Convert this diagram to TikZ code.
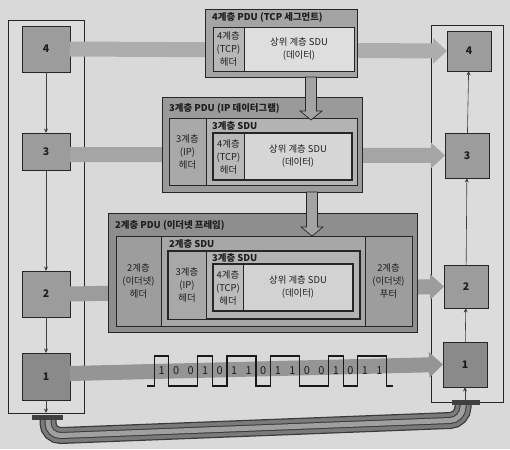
\documentclass[tikz,border=0pt]{standalone}
\usepackage{fontspec}
\setmainfont{Noto Sans CJK KR}
\usetikzlibrary{arrows.meta}
\definecolor{bg}{HTML}{D9D9D9}
\definecolor{panel}{HTML}{DCDCDC}
\definecolor{txt}{HTML}{1E1E1E}
\definecolor{lbox}{HTML}{9C9C9C}
\definecolor{lboxa}{HTML}{8A8A8A}
\definecolor{bandfour}{HTML}{ADADAD}
\definecolor{bandthree}{HTML}{A5A5A5}
\definecolor{bandtwo}{HTML}{9C9C9C}
\definecolor{bandone}{HTML}{959595}
\definecolor{pfourout}{HTML}{A4A4A4}
\definecolor{pfourhdr}{HTML}{B7B7B7}
\definecolor{pfourdat}{HTML}{DEDEDE}
\definecolor{pthreeout}{HTML}{9A9A9A}
\definecolor{pthreein}{HTML}{B3B3B3}
\definecolor{pthreehdr}{HTML}{A9A9A9}
\definecolor{pthreetcp}{HTML}{B9B9B9}
\definecolor{pthreedat}{HTML}{D6D6D6}
\definecolor{ptwoout}{HTML}{8E8E8E}
\definecolor{ptwoin}{HTML}{A7A7A7}
\definecolor{ptwohdr}{HTML}{9D9D9D}
\definecolor{ptwosdu}{HTML}{B3B3B3}
\definecolor{ptwoip}{HTML}{A8A8A8}
\definecolor{ptwotcp}{HTML}{BCBCBC}
\definecolor{ptwodat}{HTML}{D2D2D2}
\definecolor{cabledark}{HTML}{3A3A3A}
\definecolor{cablemid}{HTML}{7A7A7A}
\definecolor{cablelight}{HTML}{A0A0A0}
\tikzset{
 pbox/.style={draw=black!85, line width=0.7pt, inner sep=0pt, outer sep=0pt},
 lbl/.style={font=\fontsize{9.4}{13}\selectfont, text=txt, align=center},
 ttl/.style={font=\bfseries\fontsize{9.4}{10}\selectfont, text=txt, anchor=west, inner sep=0pt},
 num/.style={font=\bfseries\fontsize{10}{10}\selectfont},
 thinarrow/.style={draw=black!75, line width=0.6pt, -{Stealth[length=4.5pt,width=4pt]}},
 bandarrow/.style={line width=15pt, draw=#1, -{Triangle[length=14pt,width=25pt]}},
 blockarrow/.style={draw=black!85, line width=0.7pt, fill=pfourout},
 bitlbl/.style={font=\fontsize{11}{11}\selectfont, text=txt, inner sep=0pt},
}
\newcommand\mkbox[7]{\node[pbox, fill=#6, minimum width={(#4-#2)*1pt}, minimum height={(#5-#3)*1pt}, lbl] (#1) at ({(#2+#4)/2},{(#3+#5)/2}) {#7};}
\begin{document}
\begin{tikzpicture}[x=1pt,y=-1pt]
\useasboundingbox (0,0) rectangle (510,449);
\fill[bg] (0,0) rectangle (510,449);
% cable
\begin{scope}[rounded corners=13pt, line cap=butt]
\draw[line width=17pt, cabledark] (48,416) -- (48,436) -- (463,420) -- (463,402);
\draw[line width=14.5pt, cablemid] (48,416) -- (48,436) -- (463,420) -- (463,402);
\draw[line width=7pt, cabledark] (48,416) -- (48,436) -- (463,420) -- (463,402);
\draw[line width=5pt, cablelight] (48,416) -- (48,436) -- (463,420) -- (463,402);
\end{scope}
% panels
\mkbox{LP}{8}{20}{84}{413}{panel}{}
\mkbox{RP}{431}{25}{503}{402}{panel}{}
\fill[black!75] (32,414.5) rectangle (63,419.5);
\fill[black!75] (452,400) rectangle (480,405);
% left boxes
\mkbox{L4}{22}{26}{70}{72}{lbox}{\textbf{\fontsize{10.5}{10}\selectfont 4}}
\mkbox{L3}{22}{133}{70}{170}{lbox}{\textbf{\fontsize{10.5}{10}\selectfont 3}}
\mkbox{L2}{22}{271}{70}{317}{lbox}{\textbf{\fontsize{10.5}{10}\selectfont 2}}
\mkbox{L1}{22}{353}{70}{400}{lboxa}{\textbf{\fontsize{10.5}{10}\selectfont 1}}
% right boxes
\mkbox{R4}{447}{31}{491}{71}{lbox}{\textbf{\fontsize{10.5}{10}\selectfont 4}}
\mkbox{R3}{445}{133}{489}{178}{lbox}{\textbf{\fontsize{10.5}{10}\selectfont 3}}
\mkbox{R2}{444}{265}{488}{308}{lbox}{\textbf{\fontsize{10.5}{10}\selectfont 2}}
\mkbox{R1}{443}{342}{487}{387}{lboxa}{\textbf{\fontsize{10.5}{10}\selectfont 1}}
% bands
\draw[bandarrow=bandfour] (L4.east) -- (R4.west);
\draw[bandarrow=bandthree] ([yshift=-3pt]L3.east) -- (R3.west);
\draw[bandarrow=bandtwo] (L2.east) -- (R2.west);
\draw[bandarrow=bandone] ([yshift=3pt]L1.east) -- (R1.west);
% panel arrows
\draw[thinarrow] (L4) -- (L3);
\draw[thinarrow] (L3) -- (L2);
\draw[thinarrow] (L2) -- (L1);
\draw[thinarrow] (L1) -- (L1.south |- LP.south);
\draw[thinarrow] (R1.south |- RP.south) -- (R1);
\draw[thinarrow] (R1) -- (R2);
\draw[thinarrow] (R2) -- (R3);
\draw[thinarrow] (R3) -- (R4);
% layer 4 PDU
\mkbox{P4}{205}{9}{357}{77}{pfourout}{}
\node[ttl] (T4) at (212,17.5) {4계층 PDU (TCP 세그먼트)};
\mkbox{P4h}{213}{27}{244}{71}{pfourhdr}{4계층\\(TCP)\\헤더}
\mkbox{P4d}{244}{27}{354}{71}{pfourdat}{상위 계층 SDU\\(데이터)}
% layer 3 PDU
\mkbox{P3}{162}{97}{362}{192}{pthreeout}{}
\node[ttl] (T3) at (169,108) {3계층 PDU (IP 데이터그램)};
\mkbox{P3i}{169}{118}{357}{185}{pthreein}{}
\mkbox{P3h}{169}{118}{206}{185}{pthreehdr}{3계층\\(IP)\\헤더}
\node[ttl] (S3) at (212,126) {3계층 SDU};
\mkbox{P3t}{213}{133}{244}{180}{pthreetcp}{4계층\\(TCP)\\헤더}
\mkbox{P3d}{244}{133}{352}{180}{pthreedat}{상위 계층 SDU\\(데이터)}
\draw[line width=1.1pt, black!85] (P3t.north west) rectangle (P3d.south east);
% layer 2 PDU
\mkbox{P2}{108}{213}{417}{332}{ptwoout}{}
\node[ttl] (T2) at (115,225) {2계층 PDU (이더넷 프레임)};
\mkbox{P2i}{116}{236}{412}{326}{ptwoin}{}
\mkbox{P2h}{116}{236}{161}{326}{ptwohdr}{2계층\\(이더넷)\\헤더}
\mkbox{P2f}{365}{236}{412}{326}{ptwohdr}{2계층\\(이더넷)\\푸터}
\node[ttl] (S2) at (169,244) {2계층 SDU};
\mkbox{P2s}{168}{251}{360}{319}{ptwosdu}{}
\draw[line width=1.1pt, black!85] (P2s.north west) rectangle (P2s.south east);
\mkbox{P2ip}{168}{251}{206}{319}{ptwoip}{3계층\\(IP)\\헤더}
\node[ttl] (S2b) at (212,258) {3계층 SDU};
\mkbox{P2t}{213}{264}{243}{311}{ptwotcp}{4계층\\(TCP)\\헤더}
\mkbox{P2d}{243}{264}{353}{311}{ptwodat}{상위 계층 SDU\\(데이터)}
\draw[line width=1.1pt, black!85] (P2t.north west) rectangle (P2d.south east);
% block arrows
\draw[blockarrow] (305.5,77) -- (316.5,77) -- (316.5,111) -- (322,111) -- (311,120) -- (300,111) -- (305.5,111) -- cycle;
\draw[blockarrow] (306.5,192) -- (317.5,192) -- (317.5,227) -- (323,227) -- (312,236) -- (301,227) -- (306.5,227) -- cycle;
% bit stream
\begin{scope}[shift={(154.3,371)}]
\draw[line width=1.1pt, black!90, line join=miter]
 (-7,15) -- (0,15) -- (0,-15) -- (14.53,-15) -- (14.53,15) -- (43.59,15) -- (43.59,-15)
 -- (58.12,-15) -- (58.12,15) -- (72.65,15) -- (72.65,-15) -- (101.71,-15) -- (101.71,15)
 -- (116.24,15) -- (116.24,-15) -- (145.3,-15) -- (145.3,15) -- (174.36,15) -- (174.36,-15)
 -- (188.89,-15) -- (188.89,15) -- (203.42,15) -- (203.42,-15) -- (232.48,-15) -- (232.48,15) -- (239,15);
\foreach \b [count=\i from 0] in {1,0,0,1,0,1,1,0,1,1,0,0,1,0,1,1}
  \node[bitlbl] (b\i) at ({14.53*\i+7.26},0) {\b};
\end{scope}
\end{tikzpicture}
\end{document}
